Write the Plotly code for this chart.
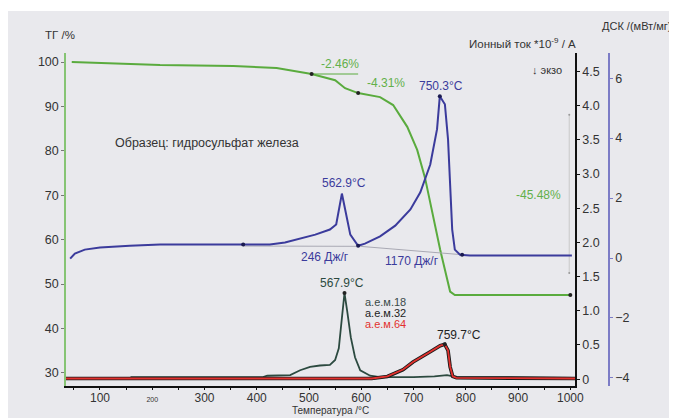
import plotly.graph_objects as go

# ---------------- data ----------------
tg_temp = [46, 215, 355, 438, 505, 550, 569, 594, 636, 661, 688, 707, 722, 751, 770, 779, 1003]
tg_vals = [100.0, 99.3, 99.1, 98.65, 97.3, 95.9, 94.1, 93.0, 92.1, 90.3, 85.4, 80.2, 73.9, 57.7, 48.3, 47.5, 47.5]

dsc_temp = [43, 52, 71, 100, 157, 215, 291, 374, 425, 454, 483, 512, 540, 552, 562.9, 571, 579, 594,
            607, 636, 665, 694, 713, 732, 745, 750.3, 760, 766, 770, 774, 779, 789, 808, 1003]
dsc_vals = [-0.02, 0.15, 0.28, 0.35, 0.41, 0.45, 0.45, 0.45, 0.45, 0.52, 0.65, 0.78, 0.95, 1.12, 2.15, 1.45, 0.78, 0.41,
            0.48, 0.72, 1.08, 1.62, 2.19, 3.12, 4.30, 5.40, 5.13, 3.96, 2.29, 0.95, 0.28, 0.11, 0.08, 0.08]

ion18_temp = [35, 157, 160, 412, 420, 464, 483, 502, 521, 540, 550, 557, 563, 567.9, 573, 580, 588, 598, 617, 636, 700, 740, 764, 783, 1009]
ion18_vals = [0.015, 0.015, 0.03, 0.03, 0.05, 0.06, 0.13, 0.18, 0.20, 0.21, 0.28, 0.45, 0.90, 1.26, 1.00, 0.61, 0.32, 0.13, 0.05, 0.03, 0.03, 0.04, 0.06, 0.03, 0.02]

ion32_temp = [35, 620, 650, 680, 699, 720, 732, 751, 759.7, 766, 770, 775, 782, 1009]
ion32_vals = [0.01, 0.01, 0.04, 0.14, 0.25, 0.34, 0.40, 0.49, 0.51, 0.42, 0.18, 0.04, 0.02, 0.01]

ion64_temp = [35, 620, 650, 680, 699, 720, 732, 751, 759.7, 766, 770, 775, 782, 1009]
ion64_vals = [0.01, 0.01, 0.04, 0.14, 0.25, 0.34, 0.40, 0.49, 0.51, 0.42, 0.18, 0.04, 0.02, 0.01]

tg_marker_temp = [505, 594, 1000]
tg_marker_vals = [97.3, 93.0, 47.5]
dsc_marker_temp = [374, 594, 793, 750.3]
dsc_marker_vals = [0.45, 0.41, 0.11, 5.40]
ion_marker_temp = [567.9, 759.7]
ion_marker_vals = [1.26, 0.51]

dsc_base1_temp = [374, 598]
dsc_base1_vals = [0.40, 0.39]
dsc_base2_temp = [598, 793]
dsc_base2_vals = [0.39, 0.11]
tg_step_temp = [505, 594]
tg_step_vals = [97.3, 97.3]
tg_total_temp = [998, 998]
tg_total_vals = [88.1, 52.5]

x_ticks = [100, 200, 300, 400, 500, 600, 700, 800, 900, 1000]
x_ticktext = ["100", "<span style='font-size:7px'>200</span>", "300", "400", "500", "600", "700", "800", "900", "1000"]
tg_ticks = [30, 40, 50, 60, 70, 80, 90, 100]
ion_ticks = [0, 0.5, 1.0, 1.5, 2.0, 2.5, 3.0, 3.5, 4.0, 4.5]
ion_ticktext = ["0", "0.5", "1.0", "1.5", "2.0", "2.5", "3.0", "3.5", "4.0", "4.5"]
dsc_ticks = [-4, -2, 0, 2, 4, 6]

# ---------------- styles ----------------
GREEN = "#5aab3e"
GREEN_TXT = "#62b04a"
BLUE = "#3b3b9c"
BLUE_AX = "#7c7cc6"
ION18 = "#2c4a40"
RED = "#e3312e"
TXT = "#333333"
BG = "#e9e9ed"
FONT = "Liberation Sans, Arial, sans-serif"

fig = go.Figure()

# integration baselines / step guides
fig.add_trace(go.Scatter(x=dsc_base1_temp, y=dsc_base1_vals, yaxis="y3", mode="lines",
                         line=dict(color="#a9a9b4", width=1)))
fig.add_trace(go.Scatter(x=dsc_base2_temp, y=dsc_base2_vals, yaxis="y3", mode="lines",
                         line=dict(color="#a9a9b4", width=1)))
fig.add_trace(go.Scatter(x=tg_total_temp, y=tg_total_vals, yaxis="y", mode="lines+markers",
                         line=dict(color="#cfcfcf", width=1.2), marker=dict(size=2, color="#999")))
fig.add_trace(go.Scatter(x=tg_step_temp, y=tg_step_vals, yaxis="y", mode="lines",
                         line=dict(color=GREEN, width=1)))

# ion current curves
fig.add_trace(go.Scatter(x=ion18_temp, y=ion18_vals, yaxis="y2", mode="lines",
                         line=dict(color=ION18, width=1.8)))
fig.add_trace(go.Scatter(x=ion32_temp, y=ion32_vals, yaxis="y2", mode="lines",
                         line=dict(color="#1a1a1a", width=3.6)))
fig.add_trace(go.Scatter(x=ion64_temp, y=ion64_vals, yaxis="y2", mode="lines",
                         line=dict(color=RED, width=1.8)))

# DSC
fig.add_trace(go.Scatter(x=dsc_temp, y=dsc_vals, yaxis="y3", mode="lines",
                         line=dict(color=BLUE, width=2)))
# TG
fig.add_trace(go.Scatter(x=tg_temp, y=tg_vals, yaxis="y", mode="lines",
                         line=dict(color=GREEN, width=2)))

# markers
fig.add_trace(go.Scatter(x=tg_marker_temp, y=tg_marker_vals, yaxis="y", mode="markers",
                         marker=dict(size=4, color="#222")))
fig.add_trace(go.Scatter(x=dsc_marker_temp, y=dsc_marker_vals, yaxis="y3", mode="markers",
                         marker=dict(size=4, color="#1a1a50")))
fig.add_trace(go.Scatter(x=ion_marker_temp, y=ion_marker_vals, yaxis="y2", mode="markers",
                         marker=dict(size=4, color="#222")))

ann = []
def add_ann(text, x, y, yref, color, size=12, xanchor="center", xref="x", yanchor="middle"):
    ann.append(dict(text=text, x=x, y=y, xref=xref, yref=yref, showarrow=False,
                    font=dict(family=FONT, size=size, color=color), xanchor=xanchor, yanchor=yanchor))

add_ann("Образец: гидросульфат железа", 305, 81.8, "y", TXT, 12.5)
add_ann("-2.46%", 560, 99.55, "y", GREEN_TXT, 12)
add_ann("-4.31%", 647, 95.3, "y", GREEN_TXT, 12)
add_ann("-45.48%", 940, 70.05, "y", GREEN_TXT, 12)
add_ann("750.3°C", 752, 5.73, "y3", BLUE, 12)
add_ann("562.9°C", 567, 2.49, "y3", BLUE, 12)
add_ann("246 Дж/г", 531, 0.05, "y3", BLUE, 12)
add_ann("1170 Дж/г", 697, -0.09, "y3", BLUE, 12)
add_ann("567.9°C", 563, 1.41, "y2", ION18, 12)
add_ann("а.е.м.18", 603, 1.13, "y2", "#3a4a48", 11, "left")
add_ann("а.е.м.32", 603, 0.965, "y2", "#222222", 11, "left")
add_ann("а.е.м.64", 603, 0.80, "y2", RED, 11, "left")
add_ann("759.7°C", 787, 0.64, "y2", "#222222", 12)
add_ann("↓ экзо", 955, 98.2, "y", TXT, 11)

add_ann("ТГ /%", -0.0105, 1.054, "paper", TXT, 11.5, xref="paper")
add_ann("ДСК /(мВт/мг)", 1.0575, 1.081, "paper", TXT, 11, xanchor="right", xref="paper")
add_ann("Ионный ток *10<sup>-9</sup> / A", 0.796, 1.03, "paper", TXT, 11.5, xref="paper")
add_ann("Температура /°C", 0.46, -0.0961, "paper", TXT, 10, xref="paper", yanchor="bottom")

tickfont = dict(family=FONT, size=12, color=TXT)

fig.update_layout(
    width=669, height=410,
    margin=dict(l=58, r=37, t=45, b=32),
    paper_bgcolor=BG,
    plot_bgcolor="rgba(0,0,0,0)",
    showlegend=False,
    annotations=ann,
    shapes=[dict(type="rect", xref="paper", yref="paper", x0=-0.2, x1=1.2, y0=1.126, y1=1.3,
                 fillcolor="white", line=dict(width=0), layer="below")],
    xaxis=dict(domain=[0, 0.8868], range=[35, 1009], showgrid=False, zeroline=False,
               showline=True, linecolor="#111", linewidth=1.5, ticks="outside", ticklen=2,
               ticklabelstandoff=-2,
               tickcolor="#111", tickvals=x_ticks, ticktext=x_ticktext, tickfont=tickfont,
               minor=dict(ticks="outside", ticklen=2, dtick=50, tick0=0, tickcolor="#111")),
    yaxis=dict(range=[27.03, 102.03], showgrid=False, zeroline=False, showline=True,
               linecolor="#86c474", linewidth=1.5, ticks="outside", ticklen=3, tickcolor="#777",
               tickvals=tg_ticks, tickfont=dict(family=FONT, size=12.5, color=TXT)),
    yaxis2=dict(range=[-0.10, 4.77], overlaying="y", side="right", anchor="x", showgrid=False,
                zeroline=False, showline=True, linecolor="#111", linewidth=1.5, ticks="outside",
                ticklen=3, tickcolor="#111", tickvals=ion_ticks, ticktext=ion_ticktext,
                tickfont=dict(family=FONT, size=12.5, color=TXT)),
    yaxis3=dict(range=[-4.27, 6.84], overlaying="y", side="right", anchor="free", position=0.946,
                showgrid=False, zeroline=False, showline=True, linecolor=BLUE_AX, linewidth=1.5,
                ticks="outside", ticklen=3, tickcolor=BLUE_AX, tickvals=dsc_ticks,
                tickfont=dict(family=FONT, size=12.5, color=TXT)),
)

fig.write_html("out.html")
